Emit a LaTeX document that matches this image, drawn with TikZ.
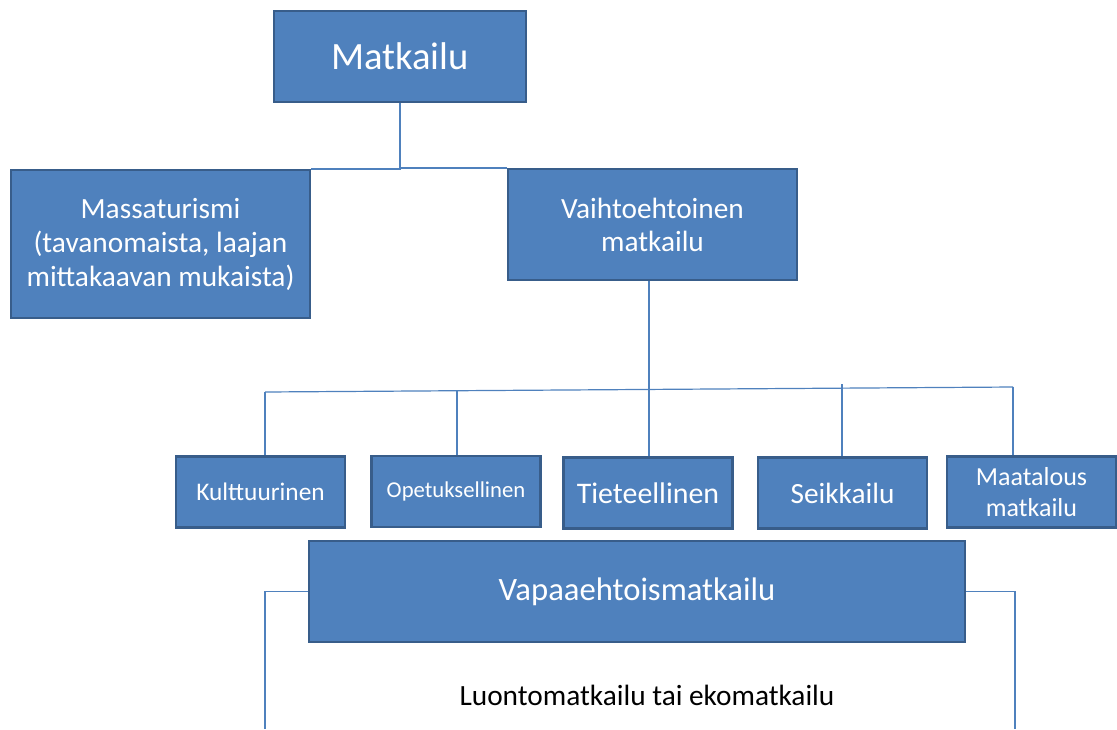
\documentclass[tikz,border=0pt]{standalone}
\usepackage{fontspec}
\setmainfont{Carlito}
\usetikzlibrary{positioning}
\definecolor{boxblue}{HTML}{4F81BD}
\definecolor{boxedge}{HTML}{385D8A}

\begin{document}
\begin{tikzpicture}[x = 0.75pt, y = -0.75pt,
	box/.style = {rectangle, fill = boxblue, draw = boxedge, line width = 1.6pt, text = white, align = center, inner sep = 0pt},
	kid/.style = {box, minimum width = 126.75pt, minimum height = 53.25pt},
	link/.style = {draw = boxblue, line width = 0.9pt}]
	\useasboundingbox (0,0) rectangle (1117,729);
	\node[box, minimum width = 189pt, minimum height = 68.25pt, font = \fontsize{29}{35}\selectfont] (top) at (400,56.5) {Matkailu};
	\node[box, minimum width = 224.25pt, minimum height = 111pt, font = \fontsize{22}{25.5}\selectfont] (mass) at (160.5,244) {Massaturismi\\(tavanomaista, laajan\\mittakaavan mukaista)};
	\node[box, minimum width = 216.75pt, minimum height = 83.25pt, font = \fontsize{22}{24.75}\selectfont] (alt) at (652.5,224.5) {Vaihtoehtoinen\\matkailu};
	\node[kid, font = \fontsize{19}{23}\selectfont] (kult) at (260.5,492) {Kulttuurinen};
	\node[kid, font = \fontsize{17}{20}\selectfont] (opet) at (456,491.5) {Opetuksellinen};
	\node[kid, font = \fontsize{22.4}{26}\selectfont] (tiet) at (648,493) {Tieteellinen};
	\node[kid, font = \fontsize{22}{26}\selectfont] (seik) at (842.5,493) {Seikkailu};
	\node[kid, font = \fontsize{19.5}{23.25}\selectfont] (maat) at (1031.5,492) {Maatalous\\matkailu};
	\node[box, minimum width = 492pt, minimum height = 75.75pt, font = \fontsize{24.5}{29}\selectfont] (vol) at (637,591.5) {Vapaaehtoismatkailu};
	\node[font = \fontsize{22}{26}\selectfont] (eco) at (647,695) {Luontomatkailu tai ekomatkailu};
	% bus under the alternative box
	\coordinate (j1) at (265,392);
	\coordinate (j2) at (457,391);
	\coordinate (j3) at (649,389);
	\coordinate (j4) at (842,384);
	\coordinate (j5) at (1013,387);
	\coordinate (lend) at (265,729);
	\coordinate (rend) at (1015,729);
	\draw[link] (top.south) |- (mass.north east);
	\draw[link] (top.south) |- (alt.north west);
	\draw[link] (alt.south -| j3) -- (j3);
	\draw[link] (j1) -- (j5);
	\draw[link] (j1) -- (j1 |- kult.north);
	\draw[link] (j2) -- (j2 |- opet.north);
	\draw[link] (j3) -- (j3 |- tiet.north);
	\draw[link] (j4) -- (j4 |- seik.north);
	\draw[link] (j5) -- (j5 |- maat.north);
	\draw[link] (vol.west) -| (lend);
	\draw[link] (vol.east) -| (rend);
\end{tikzpicture}
\end{document}
